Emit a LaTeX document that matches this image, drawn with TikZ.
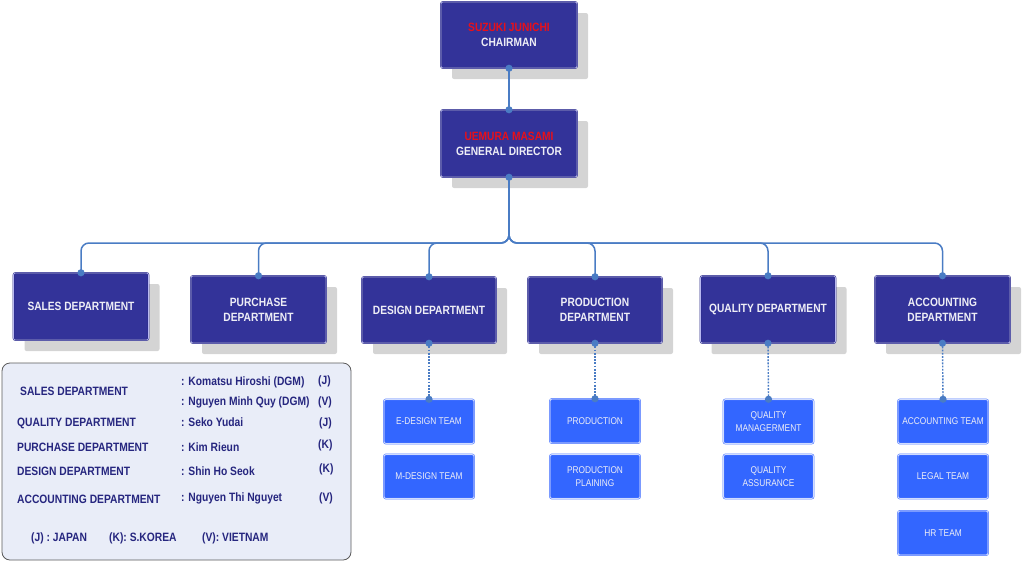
\documentclass[tikz,border=0pt]{standalone}
\usepackage{fontspec}
\setmainfont[FakeStretch=0.85]{Liberation Sans}
\usetikzlibrary{shadows}
\definecolor{deptfill}{HTML}{333399}
\definecolor{deptline}{HTML}{2A2A85}
\definecolor{deptinner}{HTML}{B8B8F0}
\definecolor{subfill}{HTML}{3366FF}
\definecolor{subline}{HTML}{4D77FF}
\definecolor{subinner}{HTML}{D0DCFF}
\definecolor{shadowgray}{HTML}{D4D4D4}
\definecolor{connblue}{HTML}{4A7CC4}
\definecolor{namered}{HTML}{E8101A}
\definecolor{boxtext}{HTML}{EEEEF6}
\definecolor{legfill}{HTML}{E9EDF8}
\definecolor{legline}{HTML}{5A5A5A}
\definecolor{legtext}{HTML}{26267F}
\begin{document}
\begin{tikzpicture}[x=1pt,y=-1pt,
  deptbox/.style={draw=deptline, double=deptinner, line width=0.5pt, double distance=0.7pt,
    fill=deptfill, rounded corners=2pt,
    drop shadow={shadow xshift=11pt, shadow yshift=-11pt, fill=shadowgray, opacity=1},
    text=boxtext, font=\bfseries\fontsize{12}{15}\selectfont, align=center, inner sep=0pt,
    minimum width=135pt, minimum height=67pt},
  subbox/.style={draw=subline, double=subinner, line width=0.5pt, double distance=0.8pt,
    fill=subfill, rounded corners=2pt, text=boxtext,
    font=\fontsize{9.8}{12.5}\selectfont, align=center, inner sep=0pt,
    minimum width=90pt, minimum height=44pt},
  conn/.style={draw=connblue, line width=1.5pt, rounded corners=8pt},
  dotconn/.style={draw=connblue, line width=1.4pt, dash pattern=on 1.8pt off 1.4pt},
  dot/.style={fill=connblue},
  leg/.style={text=legtext, font=\bfseries\fontsize{12.1}{12}\selectfont, inner sep=0pt, anchor=west},
]
\useasboundingbox (0,0) rectangle (1024,562);

% top boxes
\node[deptbox, minimum width=136pt, minimum height=66pt] (ch) at (509,35)
  {{\color{namered}SUZUKI JUNICHI}\\CHAIRMAN};
\node[deptbox, minimum width=136pt, minimum height=67pt] (gd) at (509,143.5)
  {{\color{namered}UEMURA MASAMI}\\GENERAL DIRECTOR};

% departments
\node[deptbox] (sales) at (81,306.5) {SALES DEPARTMENT};
\node[deptbox] (pur) at (258.5,309.5) {PURCHASE\\DEPARTMENT};
\node[deptbox, minimum width=134pt, minimum height=66pt] (des) at (429,310) {DESIGN DEPARTMENT};
\node[deptbox, minimum width=134pt, minimum height=66pt] (prod) at (595,310) {PRODUCTION\\DEPARTMENT};
\node[deptbox] (qual) at (768,309.5) {QUALITY DEPARTMENT};
\node[deptbox] (acc) at (942.5,309.5) {ACCOUNTING\\DEPARTMENT};

% sub teams
\node[subbox] (ed) at (429,421.5) {E-DESIGN TEAM};
\node[subbox] (md) at (429,476.5) {M-DESIGN TEAM};
\node[subbox] (pr) at (595,421) {PRODUCTION};
\node[subbox] (pp) at (595,476.5) {PRODUCTION\\PLAINING};
\node[subbox] (qm) at (768.5,421.5) {QUALITY\\MANAGERMENT};
\node[subbox] (qa) at (768.5,476.5) {QUALITY\\ASSURANCE};
\node[subbox] (at) at (943,421.5) {ACCOUNTING TEAM};
\node[subbox] (lt) at (943,476.5) {LEGAL TEAM};
\node[subbox] (hr) at (943,533) {HR TEAM};

% connectors
\coordinate (bus) at (509,243);
\draw[conn] (ch.south) -- (gd.north);
\foreach \d in {sales,pur,des,prod,qual,acc}{
  \draw[conn] (gd.south) -- (bus) -| (\d.north);
  \fill[dot] (\d.north) circle (3.6pt);
}
\fill[dot] (ch.south) circle (3.6pt);
\fill[dot] (gd.north) circle (3.6pt);
\fill[dot] (gd.south) circle (3.6pt);
\foreach \d/\s in {des/ed,prod/pr,qual/qm,acc/at}{
  \draw[dotconn] (\d.south) -- (\s.north);
  \fill[dot] (\d.south) circle (3.6pt);
  \fill[dot] (\s.north) circle (3.6pt);
}

% legend
\node[draw=legline, line width=0.8pt, fill=legfill, rounded corners=8pt,
  minimum width=349pt, minimum height=197pt, inner sep=0pt] (legend) at (176.5,461.5) {};
\node[leg] (l1) at (20,391) {SALES DEPARTMENT};
\node[leg] (n1) at (181,382) {: Komatsu Hiroshi (DGM)};
\node[leg] (c1) at (318,381) {(J)};
\node[leg] (n2) at (181,402) {: Nguyen Minh Quy (DGM)};
\node[leg] (c2) at (318,402) {(V)};
\node[leg] (l2) at (17,423) {QUALITY DEPARTMENT};
\node[leg] (n3) at (181,422) {: Seko Yudai};
\node[leg] (c3) at (319,423) {(J)};
\node[leg] (l3) at (17,447) {PURCHASE DEPARTMENT};
\node[leg] (n4) at (181,447) {: Kim Rieun};
\node[leg] (c4) at (318,445) {(K)};
\node[leg] (l4) at (17,471) {DESIGN DEPARTMENT};
\node[leg] (n5) at (181,471) {: Shin Ho Seok};
\node[leg] (c5) at (319,469) {(K)};
\node[leg] (l5) at (17,499) {ACCOUNTING DEPARTMENT};
\node[leg] (n6) at (181,498) {: Nguyen Thi Nguyet};
\node[leg] (c6) at (319,498) {(V)};
\node[leg] (k1) at (31,538) {(J) : JAPAN};
\node[leg] (k2) at (109,538) {(K): S.KOREA};
\node[leg] (k3) at (202,538) {(V): VIETNAM};
\end{tikzpicture}
\end{document}
